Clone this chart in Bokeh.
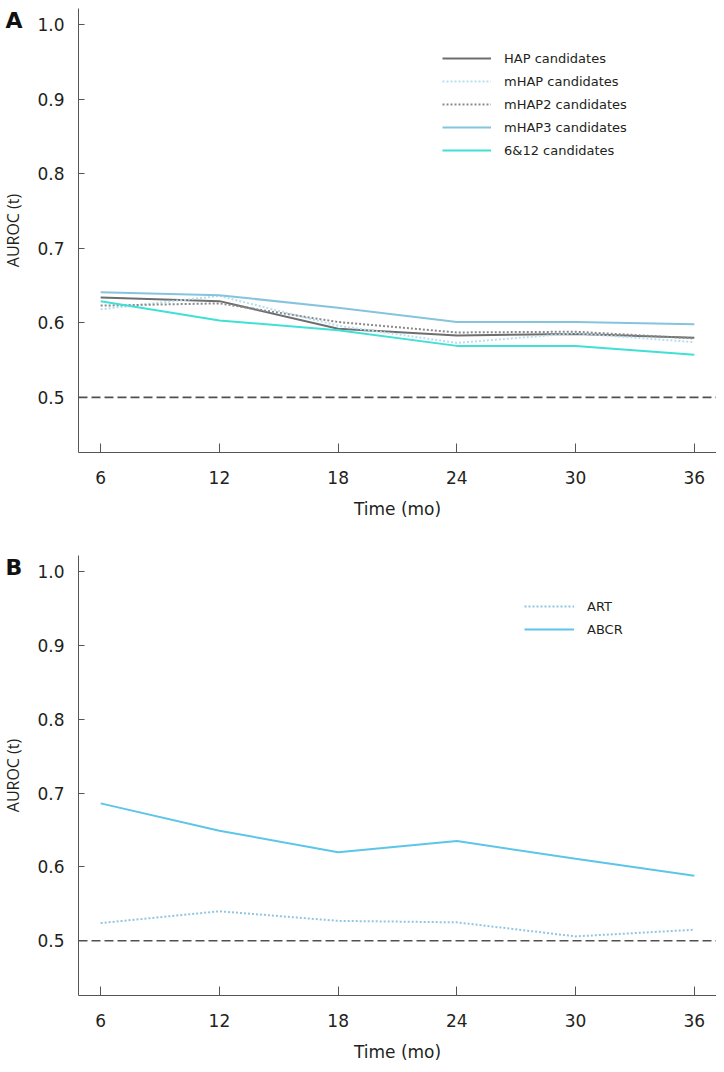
import math
from bokeh.plotting import figure
from bokeh.layouts import column, row
from bokeh.models import (Range1d, Span, Legend, LegendItem, FixedTicker,
                          ColumnDataSource, PrintfTickFormatter)
from bokeh.core.properties import value
from bokeh.embed import file_html
from bokeh.resources import INLINE

months = [6, 12, 18, 24, 30, 36]

# Panel A
hap = [0.634, 0.629, 0.592, 0.583, 0.585, 0.580]
mhap = [0.618, 0.636, 0.596, 0.573, 0.586, 0.574]
mhap2 = [0.623, 0.626, 0.601, 0.587, 0.588, 0.579]
mhap3 = [0.641, 0.637, 0.620, 0.601, 0.601, 0.598]
c612 = [0.629, 0.603, 0.590, 0.569, 0.569, 0.557]

# Panel B
art = [0.524, 0.540, 0.527, 0.525, 0.506, 0.515]
abcr = [0.686, 0.649, 0.620, 0.635, 0.611, 0.588]

y_ticks = [0.5, 0.6, 0.7, 0.8, 0.9, 1.0]
reference = 0.5
y_label = "AUROC (t)"
x_label = "Time (mo)"

FONT = "DejaVu Sans"
TXT = "#231f20"
Y0, Y1 = 0.426, 1.0215
LEFT_W = 24


def side_fig(height, top, bottom, letter):
    s = figure(width=LEFT_W, height=height, output_backend="svg", toolbar_location=None,
               x_range=Range1d(0, LEFT_W), y_range=Range1d(Y0, Y1),
               min_border_left=0, min_border_right=0, min_border_top=top,
               min_border_bottom=bottom, x_axis_location=None, y_axis_location=None)
    s.outline_line_color = None
    s.xgrid.visible = False
    s.ygrid.visible = False
    s.text(x=[13.5], y=[1.0055], text=[letter], text_font=value(FONT),
           text_font_style="bold", text_font_size="22px", text_color="#111111",
           text_align="center", text_baseline="middle")
    s.text(x=[12.5], y=[(Y0 + Y1) / 2], text=[y_label], angle=math.pi / 2,
           text_font=value("Open Sans"), text_font_size="16px", text_color=TXT,
           text_align="center", text_baseline="middle")
    return s


def make_fig(height, top, bottom):
    p = figure(width=716 - LEFT_W, height=height, output_backend="svg", toolbar_location=None,
               x_range=Range1d(4.88, 37.12), y_range=Range1d(Y0, Y1),
               min_border_left=78 - LEFT_W, min_border_right=0, min_border_top=top,
               min_border_bottom=bottom)
    p.outline_line_color = None
    p.xgrid.visible = False
    p.ygrid.visible = False
    p.xaxis.ticker = FixedTicker(ticks=months)
    p.yaxis.ticker = FixedTicker(ticks=y_ticks)
    p.yaxis.formatter = PrintfTickFormatter(format="%.1f")
    for ax in (p.xaxis[0], p.yaxis[0]):
        ax.axis_line_color = "#555555"
        ax.major_tick_line_color = "#555555"
        ax.minor_tick_line_color = None
        ax.major_label_text_font = FONT
        ax.major_label_text_font_size = "17px"
        ax.major_label_text_color = TXT
        ax.axis_label_text_font_style = "normal"
        ax.axis_label_text_color = TXT
    p.xaxis.major_tick_in = 9
    p.xaxis.major_tick_out = 0
    p.xaxis.major_label_standoff = 18
    p.xaxis.axis_label = x_label
    p.xaxis.axis_label_text_font = FONT
    p.xaxis.axis_label_text_font_size = "17px"
    p.xaxis.axis_label_standoff = 12
    p.yaxis.major_tick_in = 6
    p.yaxis.major_tick_out = 0
    p.yaxis.major_label_standoff = 14
    p.add_layout(Span(location=reference, dimension="width", line_color="#505050",
                      line_width=1.6, line_dash="9 4"))
    return p


HA, TA, BA = 555, 8, 103
HB, TB, BB = 509, 0, 66

pa = make_fig(HA, TA, BA)
series_a = [
    ("HAP candidates", hap, "#6e6e6e", "solid"),
    ("mHAP candidates", mhap, "#b5def0", "2 2"),
    ("mHAP2 candidates", mhap2, "#8a8a8a", "2 2"),
    ("mHAP3 candidates", mhap3, "#86c4de", "solid"),
    ("6&12 candidates", c612, "#3fe0d6", "solid"),
]
items_a = []
for name, vals, col, dash in series_a:
    src = ColumnDataSource(dict(x=months, y=vals))
    r = pa.line("x", "y", source=src, line_color=col, line_dash=dash, line_width=2)
    items_a.append(LegendItem(label=name, renderers=[r]))
leg_a = Legend(items=items_a, location=(364, 292))
pa.add_layout(leg_a)

pb = make_fig(HB, TB, BB)
series_b = [
    ("ART", art, "#92c4e4", "2 2"),
    ("ABCR", abcr, "#5cc6e8", "solid"),
]
items_b = []
for name, vals, col, dash in series_b:
    src = ColumnDataSource(dict(x=months, y=vals))
    r = pb.line("x", "y", source=src, line_color=col, line_dash=dash, line_width=2)
    items_b.append(LegendItem(label=name, renderers=[r]))
leg_b = Legend(items=items_b, location=(446, 356))
pb.add_layout(leg_b)

for leg, gw in ((leg_a, 49), (leg_b, 50)):
    leg.border_line_color = None
    leg.background_fill_alpha = 0
    leg.padding = 0
    leg.margin = 0
    leg.spacing = 3
    leg.glyph_width = gw
    leg.glyph_height = 20
    leg.label_height = 20
    leg.label_standoff = 13
    leg.label_text_font = FONT
    leg.label_text_font_size = "13px"
    leg.label_text_color = TXT

sa = side_fig(HA, TA, BA, "A")
sb = side_fig(HB, TB, BB, "B")

layout = column(row(sa, pa), row(sb, pb))
open("out.html", "w").write(file_html(layout, INLINE))
